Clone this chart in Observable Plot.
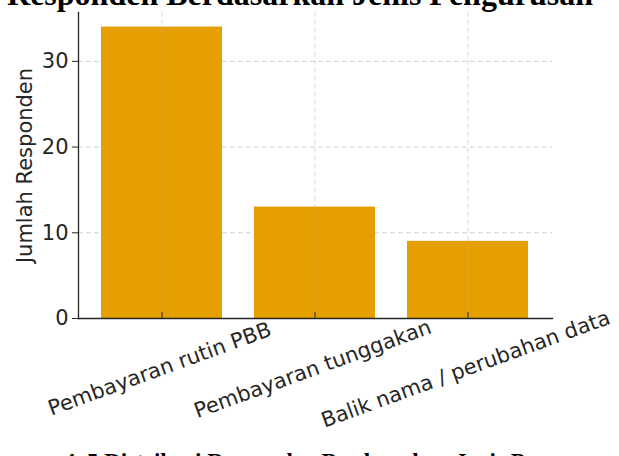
<!DOCTYPE html>
<html><head><meta charset="utf-8">
<script src="https://cdn.jsdelivr.net/npm/d3@7"></script>
<script src="https://cdn.jsdelivr.net/npm/@observablehq/plot@0.6"></script>
<style>
html,body{margin:0;padding:0;background:#fff;overflow:hidden;width:619px;height:456px}
#wrap{position:relative;width:619px;height:456px;overflow:hidden;background:#fff}
#chart{position:absolute;left:0;top:0}
#title{position:absolute;left:0;width:600px;top:-22px;text-align:center;font:bold 32px/32px "Liberation Serif",serif;color:#000;white-space:nowrap}
#caption{position:absolute;left:64px;top:450px;font:bold 23px/23px "Liberation Serif",serif;color:#000;white-space:nowrap}
</style></head><body>
<div id="wrap"><div id="chart"></div><div id="title"></div><div id="caption"></div></div>
<script>
const categories = ["Pembayaran rutin PBB", "Pembayaran tunggakan", "Balik nama / perubahan data"];
const counts = [34, 13, 9];
const yTicks = [0, 10, 20, 30];
const titleText = "Responden Berdasarkan Jenis Pengurusan";
const captionText = "4. 5 Distribusi Responden Berdasarkan Jenis Pengurusan";
const yLabel = "Jumlah Responden";

document.getElementById("title").textContent = titleText;
document.getElementById("caption").textContent = captionText;

const data = categories.map((c, i) => ({category: c, count: counts[i]}));
const ink = "#262626";
const gridColor = "#b0b0b0";

const plot = Plot.plot({
  width: 619, height: 456,
  marginLeft: 78, marginRight: 67, marginTop: 12, marginBottom: 138,
  style: {fontFamily: "'DejaVu Sans', sans-serif", fontSize: "21px", color: ink, background: "#fff", overflow: "visible"},
  x: {domain: categories, paddingInner: 0.208, paddingOuter: 0.143, axis: null},
  y: {domain: [0, 35.7], axis: null},
  marks: [
    Plot.gridY(yTicks, {stroke: gridColor, strokeOpacity: 0.75, strokeDasharray: "5,3", strokeWidth: 0.8}),
    Plot.barY(data, {x: "category", y: "count", fill: "#E69F00"}),
    Plot.gridX(categories, {stroke: gridColor, strokeOpacity: 0.6, strokeDasharray: "5,3", strokeWidth: 0.8}),
    Plot.axisY(yTicks, {tickSize: 6, tickPadding: 4, label: null, stroke: ink, fill: ink}),
    Plot.axisX(categories, {tickSize: -6, tickFormat: () => "", label: null, stroke: ink}),
    Plot.frame({anchor: "left", stroke: ink, strokeWidth: 1.3}),
    Plot.frame({anchor: "bottom", stroke: ink, strokeWidth: 1.3}),
    Plot.text(categories, {x: d => d, text: d => d, frameAnchor: "bottom", dy: 57, rotate: -20, textAnchor: "middle", fill: ink}),
    Plot.text([yLabel], {text: d => d, frameAnchor: "left", dx: -53, rotate: -90, textAnchor: "middle", fill: ink})
  ]
});
document.getElementById("chart").appendChild(plot);
</script>
</body></html>
